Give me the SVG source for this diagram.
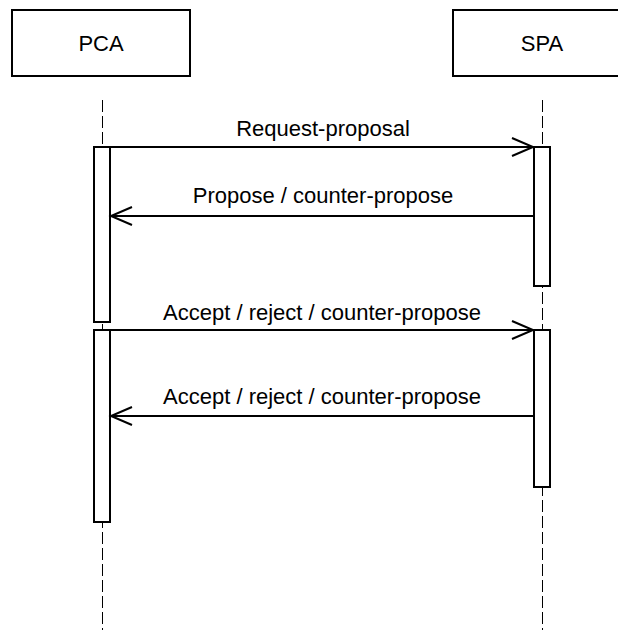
<svg xmlns="http://www.w3.org/2000/svg" width="618" height="630" viewBox="0 0 618 630">
<style>
.box{fill:#fff;stroke:#000;stroke-width:2}
.act{fill:#fff;stroke:#000;stroke-width:2}
.life{stroke:#000;stroke-width:1;stroke-dasharray:12,4;fill:none}
.msg{stroke:#000;stroke-width:2;fill:none}
.head{stroke:#000;stroke-width:2;fill:none}
text{font-family:"Liberation Sans",Arial,sans-serif;font-size:22px;fill:#000;text-anchor:middle}
</style>
<rect width="618" height="630" fill="#fff"/>
<g id="lifelines">
<line class="life" x1="102.5" y1="100" x2="102.5" y2="630"/>
<line class="life" x1="542.5" y1="100" x2="542.5" y2="630"/>
</g>
<g id="PCA">
<rect class="box" x="12" y="10" width="178" height="66"/>
<text x="101" y="51">PCA</text>
</g>
<g id="SPA">
<rect class="box" x="453" y="10" width="178" height="66"/>
<text x="542" y="51">SPA</text>
</g>
<g id="activations">
<rect class="act" x="94" y="147" width="16" height="175"/>
<rect class="act" x="94" y="330" width="16" height="192"/>
<rect class="act" x="534" y="147" width="16" height="139"/>
<rect class="act" x="534" y="330" width="16" height="157"/>
</g>
<g id="connectors">
<line class="msg" x1="110" y1="147" x2="533" y2="147"/>
<polyline class="head" points="512,138 533,147 512,156"/>
<text x="323" y="136">Request-proposal</text>
<line class="msg" x1="534" y1="216" x2="111" y2="216"/>
<polyline class="head" points="132,207 111,216 132,225"/>
<text x="323" y="203">Propose / counter-propose</text>
<line class="msg" x1="110" y1="330" x2="533" y2="330"/>
<polyline class="head" points="512,321 533,330 512,339"/>
<text x="322" y="320">Accept / reject / counter-propose</text>
<line class="msg" x1="534" y1="416" x2="111" y2="416"/>
<polyline class="head" points="132,407 111,416 132,425"/>
<text x="322" y="404">Accept / reject / counter-propose</text>
</g>
</svg>
